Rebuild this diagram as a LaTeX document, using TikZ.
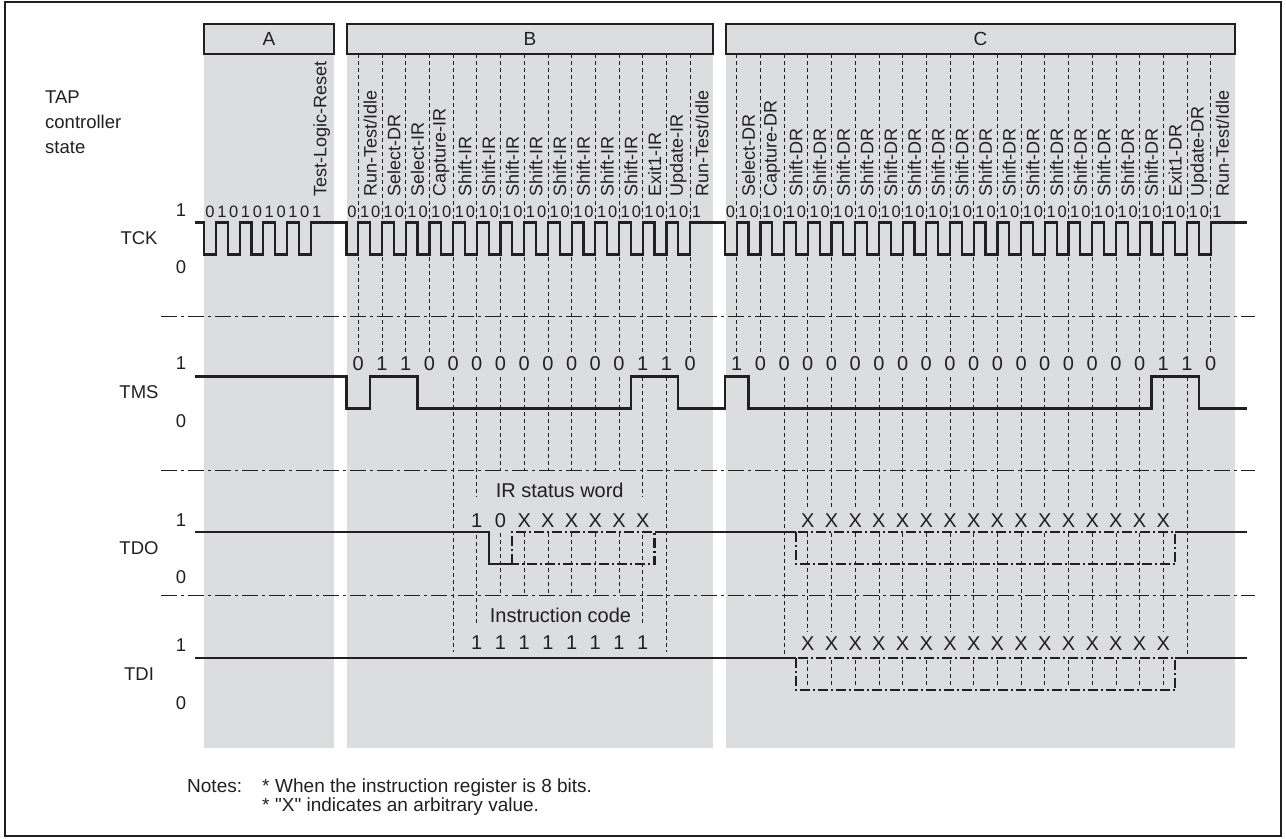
\documentclass[tikz,border=0pt]{standalone}
\usepackage{fontspec}
\setmainfont{Liberation Sans}
\newfontfamily\plainquote{Liberation Sans}
\definecolor{band}{RGB}{220,221,223}
\definecolor{ink}{RGB}{35,31,32}
\begin{document}
\begin{tikzpicture}[x=1bp,y=-1bp,
  wave/.style={line width=2.2bp,draw=ink,line join=miter},
  gridline/.style={line width=0.8bp,draw=ink,dash pattern=on 4bp off 3bp},
  divider/.style={line width=0.9bp,draw=ink,dash pattern=on 16bp off 4bp on 3bp off 4bp},
  xbox/.style={line width=2.2bp,draw=ink,dash pattern=on 10bp off 3bp on 2bp off 3bp},
  txt/.style={text=ink,inner sep=0pt,font=\fontsize{18.5bp}{25bp}\selectfont},
  dig/.style={text=ink,inner sep=0pt,font=\fontsize{20bp}{24bp}\selectfont},
  big/.style={text=ink,inner sep=0pt,font=\fontsize{20bp}{24bp}\selectfont},
  note/.style={text=ink,inner sep=0pt,font=\fontsize{19bp}{22bp}\selectfont},
  small/.style={text=ink,inner sep=0pt,font=\fontsize{16.5bp}{19bp}\selectfont},
  st/.style={text=ink,inner sep=0pt,font=\fontsize{18bp}{21bp}\selectfont,rotate=90,anchor=west},
  secbox/.style={draw=ink,line width=2.2bp,fill=band,minimum height=30bp,inner sep=0pt,text=ink,font=\fontsize{19bp}{24bp}\selectfont},
]
\useasboundingbox (0,0) rectangle (1286,839);
\draw[line width=2bp,draw=ink] (5,2) rectangle (1281,836);
% grey bands
\fill[band] (204,39) rectangle (334,748);
\fill[band] (347,39) rectangle (713,748);
\fill[band] (726,39) rectangle (1235,748);
% section boxes
\node[secbox,minimum width=130bp] (boxA) at (269,39) {A};
\node[secbox,minimum width=366bp] (boxB) at (530,39) {B};
\node[secbox,minimum width=509bp] (boxC) at (980.5,39) {C};
% left texts
\node[txt,anchor=west,align=left] (tap) at (45,122.5) {TAP\\controller\\state};
\node[txt] (lTCK) at (139,238.5) {TCK};
\node[txt] (lTMS) at (139,392.5) {TMS};
\node[txt] (lTDO) at (139,548.3) {TDO};
\node[txt] (lTDI) at (139,674.3) {TDI};
\foreach \n/\y in {a/210,b/363.6,c/520.5,d/645}{\node[txt] (one\n) at (181,\y) {1};}
\foreach \n/\y in {a/267,b/421,c/577,d/703}{\node[txt] (zero\n) at (181,\y) {0};}
% dividers
\foreach \n/\y in {1/316.4,2/470,3/595.7}{
  \coordinate (dl\n) at (161,\y); \coordinate (dr\n) at (1255,\y);
  \draw[divider] (dl\n) -- (dr\n);}
% grid lines, upper
\foreach \k in {0,...,14}{\draw[gridline] ({358.3+23.7*\k},54) -- ({358.3+23.7*\k},353);}
\foreach \k in {0,...,20}{\draw[gridline] ({736.7+23.7*\k},54) -- ({736.7+23.7*\k},353);}
% grid lines, lower B
\foreach \k in {4,13}{\draw[gridline] ({358.3+23.7*\k},377) -- ({358.3+23.7*\k},652);}
\foreach \k in {5,12}{\draw[gridline] ({358.3+23.7*\k},377) -- ({358.3+23.7*\k},497);
  \draw[gridline] ({358.3+23.7*\k},535) -- ({358.3+23.7*\k},625);}
\foreach \k in {6,...,11}{\draw[gridline] ({358.3+23.7*\k},377) -- ({358.3+23.7*\k},470);
  \draw[gridline] ({358.3+23.7*\k},533) -- ({358.3+23.7*\k},596);}
% grid lines, lower C
\foreach \k in {2,19}{\draw[gridline] ({736.7+23.7*\k},377) -- ({736.7+23.7*\k},654);}
\foreach \k in {3,...,18}{\draw[gridline] ({736.7+23.7*\k},377) -- ({736.7+23.7*\k},508);
  \draw[gridline] ({736.7+23.7*\k},533) -- ({736.7+23.7*\k},632);
  \draw[gridline] ({736.7+23.7*\k},660) -- ({736.7+23.7*\k},688);}
% state labels
\node[st] (sA) at (321.7,197) {Test-Logic-Reset};
\foreach \k/\t in {0/{Run-Test/Idle},1/{Select-DR},2/{Select-IR},3/{Capture-IR},12/{Exit1-IR},13/{Update-IR},14/{Run-Test/Idle}}{
  \node[st] (sB\k) at ({370.15+23.7*\k},197) {\t};}
\foreach \k in {4,...,11}{\node[st] (sB\k) at ({370.15+23.7*\k},197) {Shift-IR};}
\foreach \k/\t in {0/{Select-DR},1/{Capture-DR},18/{Exit1-DR},19/{Update-DR},20/{Run-Test/Idle}}{
  \node[st] (sC\k) at ({748.55+23.7*\k},197) {\t};}
\foreach \k in {2,...,17}{\node[st] (sC\k) at ({748.55+23.7*\k},197) {Shift-DR};}
% TCK digits
\foreach \i in {0,...,9}{\pgfmathtruncatemacro\v{mod(\i,2)}
  \node[small] (dA\i) at ({210+11.85*\i},211.5) {\v};}
\foreach \k in {0,...,14}{\node[small] (dB0\k) at ({358.3+23.7*\k-6.3},211.5) {0};
  \node[small] (dB1\k) at ({358.3+23.7*\k+6.3},211.5) {1};}
\foreach \k in {0,...,20}{\node[small] (dC0\k) at ({736.7+23.7*\k-6.3},211.5) {0};
  \node[small] (dC1\k) at ({736.7+23.7*\k+6.3},211.5) {1};}
% TMS digits
\foreach \k/\v in {0/0,1/1,2/1,3/0,4/0,5/0,6/0,7/0,8/0,9/0,10/0,11/0,12/1,13/1,14/0}{
  \node[dig] (mB\k) at ({358.3+23.7*\k},363.5) {\v};}
\foreach \k/\v in {0/1,1/0,2/0,3/0,4/0,5/0,6/0,7/0,8/0,9/0,10/0,11/0,12/0,13/0,14/0,15/0,16/0,17/0,18/1,19/1,20/0}{
  \node[dig] (mC\k) at ({736.7+23.7*\k},363.5) {\v};}
% TDO digits
\node[big] (irsw) at (559.7,490) {IR status word};
\foreach \k/\v in {5/1,6/0,7/X,8/X,9/X,10/X,11/X,12/X}{
  \node[dig] (oB\k) at ({358.3+23.7*\k},520.5) {\v};}
\foreach \k in {3,...,18}{\node[dig] (oC\k) at ({736.7+23.7*\k},520.5) {X};}
% TDI digits
\node[big] (icode) at (560.5,615.7) {Instruction code};
\foreach \k in {5,...,12}{\node[dig] (iB\k) at ({358.3+23.7*\k},643) {1};}
\foreach \k in {3,...,18}{\node[dig] (iC\k) at ({736.7+23.7*\k},644) {X};}
% TCK
\draw[wave] (195,222.5)
  \foreach \j in {0,...,4}{ -- ({204.05+23.7*\j},222.5) -- ({204.05+23.7*\j},254.5) -- ({215.9+23.7*\j},254.5) -- ({215.9+23.7*\j},222.5) }
  -- (346.45,222.5) -- (346.45,254.5)
  \foreach \k in {0,...,13}{ -- ({358.3+23.7*\k},254.5) -- ({358.3+23.7*\k},222.5) -- ({370.15+23.7*\k},222.5) -- ({370.15+23.7*\k},254.5) }
  -- (690.1,254.5) -- (690.1,222.5) -- (724.85,222.5) -- (724.85,254.5)
  \foreach \k in {0,...,19}{ -- ({736.7+23.7*\k},254.5) -- ({736.7+23.7*\k},222.5) -- ({748.55+23.7*\k},222.5) -- ({748.55+23.7*\k},254.5) }
  -- (1210.7,254.5) -- (1210.7,222.5) -- (1247,222.5);
% TMS
\draw[wave] (195,376.5) -- (346.45,376.5) -- (346.45,408.5) -- (370.15,408.5) -- (370.15,376.5)
  -- (417.55,376.5) -- (417.55,408.5) -- (630.85,408.5) -- (630.85,376.5) -- (678.25,376.5)
  -- (678.25,408.5) -- (724.85,408.5) -- (724.85,376.5) -- (748.55,376.5) -- (748.55,408.5)
  -- (1151.45,408.5) -- (1151.45,376.5) -- (1198.85,376.5) -- (1198.85,408.5) -- (1247,408.5);
% TDO
\draw[wave] (195,532.3) -- (488.65,532.3) -- (488.65,564.3) -- (512.35,564.3);
\draw[xbox] (512.35,564.3) -- (512.35,532.3) -- (654.55,532.3) -- (654.55,564.3) -- cycle;
\draw[wave] (654.55,532.3) -- (795.95,532.3);
\draw[xbox] (795.95,532.3) rectangle (1175.15,564.3);
\draw[wave] (1175.15,532.3) -- (1247,532.3);
% TDI
\draw[wave] (195,658.3) -- (795.95,658.3);
\draw[xbox] (795.95,658.3) rectangle (1175.15,690.3);
\draw[wave] (1175.15,658.3) -- (1247,658.3);
% notes
\node[note,anchor=base west] (notes) at (187,792) {Notes:};
\node[note,anchor=base west] (st1) at (262,792) {*};
\node[note,anchor=base west] (n1) at (275,792) {When the instruction register is 8 bits.};
\node[note,anchor=base west] (st2) at (262,811) {*};
\node[note,anchor=base west] (n2) at (275,811) {{\plainquote"}X{\plainquote"} indicates an arbitrary value.};
\end{tikzpicture}
\end{document}
